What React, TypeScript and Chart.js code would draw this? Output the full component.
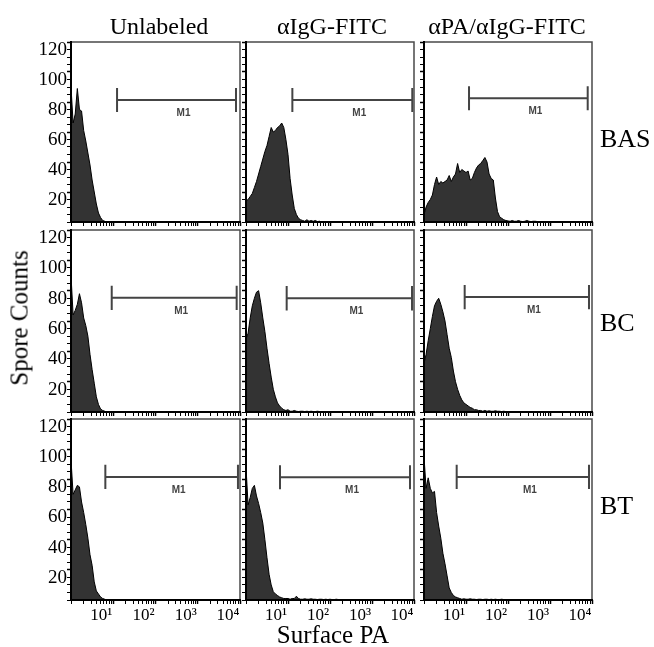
import React, { useEffect, useRef } from "react";
import { Chart, registerables } from "chart.js";

Chart.register(...registerables);

// Fluorescence channel positions (log-spaced bins, 20 per decade)
const CHANNELS = [
  1, 1.122, 1.259, 1.413, 1.585, 1.778, 1.995, 2.239, 2.512, 2.818,
  3.162, 3.548, 3.981, 4.467, 5.012, 5.623, 6.31, 7.079, 7.943, 8.913,
  10, 11.22, 12.59, 14.13, 15.85, 17.78, 19.95, 22.39, 25.12, 28.18,
  31.62, 35.48, 39.81, 44.67, 50.12, 56.23, 63.1, 70.79, 79.43, 89.13,
  100, 112.2, 125.9, 141.3, 158.5, 177.8, 199.5, 223.9, 251.2, 281.8,
  316.2, 354.8, 398.1, 446.7, 501.2, 562.3, 631, 707.9, 794.3, 891.3,
  1000, 1122, 1259, 1413, 1585, 1778, 1995, 2239, 2512, 2818,
  3162, 3548, 3981, 4467, 5012, 5623, 6310, 7079, 7943, 8913,
  10000,
];

// Spore counts per channel
const BAS_UNLABELED = [
  90, 66, 72, 89, 75, 74, 61, 54, 46, 38,
  28, 20, 12, 6, 3, 1, 0.5, 0, 0, 0,
  0, 0, 0, 0, 0, 0, 0, 0, 0, 0,
  0, 0, 0, 0, 0, 0, 0, 0, 0, 0,
  0, 0, 0, 0, 0, 0, 0, 0, 0, 0,
  0, 0, 0, 0, 0, 0, 0, 0, 0, 0,
  0, 0, 0, 0, 0, 0, 0, 0, 0, 0,
  0, 0, 0, 0, 0, 0, 0, 0, 0, 0,
  0,
];
const BAS_IGG = [
  14, 15, 17, 19, 23, 27, 32, 37, 42, 47,
  51, 57, 63, 60, 61, 63, 64, 66, 63, 55,
  45, 29, 18, 9, 5, 2.5, 1.5, 1, 0.5, 1.5,
  0.5, 1, 0.5, 1, 0.3, 0.5, 0, 0, 0, 0,
  0, 0, 0, 0, 0, 0, 0, 0, 0, 0,
  0, 0, 0, 0, 0, 0, 0, 0, 0, 0,
  0, 0, 0, 0, 0, 0, 0, 0, 0, 0,
  0, 0, 0, 0, 0, 0, 0, 0, 0, 0,
  0,
];
const BAS_PA = [
  5, 10, 13, 15, 18, 25, 30, 25, 27, 26,
  27, 28, 31, 27, 30, 32, 39, 33, 35, 34,
  33, 34, 28, 29, 33, 36, 38, 39, 41, 43,
  40, 32, 29, 28, 16, 7, 3.5, 2.5, 1.5, 1,
  0.7, 0.5, 1, 0.5, 0.5, 1, 0.5, 0.3, 0.5, 1,
  0.5, 0.3, 0.5, 0.5, 0.3, 0, 0, 0, 0, 0,
  0, 0, 0, 0, 0, 0, 0, 0, 0, 0,
  0, 0, 0, 0, 0, 0, 0, 0, 0, 0,
  0,
];
const BC_UNLABELED = [
  90, 64, 67, 71, 78, 72, 62, 57, 50, 38,
  28, 19, 10, 5, 2, 1, 0.5, 0, 0, 0,
  0, 0, 0, 0, 0, 0, 0, 0, 0, 0,
  0, 0, 0, 0, 0, 0, 0, 0, 0, 0,
  0, 0, 0, 0, 0, 0, 0, 0, 0, 0,
  0, 0, 0, 0, 0, 0, 0, 0, 0, 0,
  0, 0, 0, 0, 0, 0, 0, 0, 0, 0,
  0, 0, 0, 0, 0, 0, 0, 0, 0, 0,
  0,
];
const BC_IGG = [
  48, 52, 62, 70, 75, 79, 80, 72, 62, 53,
  42, 32, 23, 15, 10, 6, 4, 2.5, 1.5, 1,
  1.5, 0.5, 0.5, 1, 0.5, 0.3, 0.5, 0.5, 0.3, 0.5,
  0.3, 0.5, 0.3, 0.3, 0.5, 0.3, 0, 0, 0, 0,
  0, 0, 0, 0, 0, 0, 0, 0, 0, 0,
  0, 0, 0, 0, 0, 0, 0, 0, 0, 0,
  0, 0, 0, 0, 0, 0, 0, 0, 0, 0,
  0, 0, 0, 0, 0, 0, 0, 0, 0, 0,
  0,
];
const BC_PA = [
  32, 38, 47, 55, 63, 70, 73, 75, 71, 66,
  60, 51, 42, 36, 27, 20, 15, 11, 8, 6,
  5, 4, 3, 2.5, 1.5, 1.5, 1, 1, 0.5, 1,
  0.5, 0.8, 0.5, 0.5, 0.8, 0.5, 0.5, 0.3, 0.5, 0.3,
  0.3, 0, 0, 0, 0, 0, 0, 0, 0, 0,
  0, 0, 0, 0, 0, 0, 0, 0, 0, 0,
  0, 0, 0, 0, 0, 0, 0, 0, 0, 0,
  0, 0, 0, 0, 0, 0, 0, 0, 0, 0,
  0,
];
const BT_UNLABELED = [
  93, 70, 73, 76, 75, 65, 58, 50, 41, 30,
  23, 12, 6, 4, 2, 1, 0.5, 0, 0, 0,
  0, 0, 0, 0, 0, 0, 0, 0, 0, 0,
  0, 0, 0, 0, 0, 0, 0, 0, 0, 0,
  0, 0, 0, 0, 0, 0, 0, 0, 0, 0,
  0, 0, 0, 0, 0, 0, 0, 0, 0, 0,
  0, 0, 0, 0, 0, 0, 0, 0, 0, 0,
  0, 0, 0, 0, 0, 0, 0, 0, 0, 0,
  0,
];
const BT_IGG = [
  88, 63, 68, 74, 76, 69, 64, 58, 51, 40,
  28, 17, 10, 5.5, 4, 3, 2, 1.5, 1, 1,
  1, 0.5, 1, 1, 2.5, 1, 0.5, 0.5, 0.8, 0.5,
  0.5, 0.8, 0.5, 0.5, 0.3, 0.5, 0.5, 0.3, 0.5, 0.3,
  0.5, 0.3, 0.3, 0.5, 0.3, 0.3, 0.3, 0.3, 0.3, 0,
  0, 0, 0, 0, 0, 0, 0, 0, 0, 0,
  0, 0, 0, 0, 0, 0, 0, 0, 0, 0,
  0, 0, 0, 0, 0, 0, 0, 0, 0, 0,
  0,
];
const BT_PA = [
  95, 74, 81, 74, 71, 72, 58, 49, 41, 31,
  24, 16, 8, 5, 3, 2, 1.5, 1, 0.5, 0.8,
  0.5, 0.5, 0.8, 0.5, 0.5, 0.3, 0.5, 0.5, 0.3, 0.5,
  0.5, 0.3, 0.5, 0.3, 0.5, 0.3, 0.3, 0.5, 0.3, 0.3,
  0.3, 0.3, 0.3, 0.3, 0.3, 0.3, 0.3, 0.3, 0.3, 0.3,
  0.3, 0, 0, 0, 0, 0, 0, 0, 0, 0,
  0, 0, 0, 0, 0, 0, 0, 0, 0, 0,
  0, 0, 0, 0, 0, 0, 0, 0, 0, 0,
  0,
];

const COLUMN_NAMES = ["Unlabeled", "αIgG-FITC", "αPA/αIgG-FITC"];
const ROW_NAMES = ["BAS", "BC", "BT"];

// M1 gate markers (row-major order): start, end, count level
const M1_START = [12.3, 12.7, 11.8, 9.2, 9.3, 9.3, 6.5, 6.45, 6.0];
const M1_END = [8040, 9100, 7900, 8340, 8970, 8480, 8950, 8030, 8480];
const M1_LEVEL = [81.3, 81.3, 82.5, 75.3, 75, 75.8, 81.6, 81.4, 81.6];

const Y_GRID_TICKS = [
  0, 5, 10, 15, 20, 25, 30, 35, 40, 45, 50, 55, 60, 65, 70, 75, 80, 85, 90,
  95, 100, 105, 110, 115, 120,
];
const Y_TICK_LABELS = [20, 40, 60, 80, 100, 120];
const X_GRID_TICKS = [
  1, 2, 3, 4, 5, 6, 7, 8, 9,
  10, 20, 30, 40, 50, 60, 70, 80, 90,
  100, 200, 300, 400, 500, 600, 700, 800, 900,
  1000, 2000, 3000, 4000, 5000, 6000, 7000, 8000, 9000,
  10000,
];
const X_TICK_VALUES = [10, 100, 1000, 10000];
const X_TICK_TEXT = ["10¹", "10²", "10³", "10⁴"];

const COUNTS = [
  [BAS_UNLABELED, BAS_IGG, BAS_PA],
  [BC_UNLABELED, BC_IGG, BC_PA],
  [BT_UNLABELED, BT_IGG, BT_PA],
];

// Layout (page pixels)
const COL_LEFT = [71, 246, 424];
const COL_W = [169, 168, 168];
const ROW_TOP = [42, 230, 419];
const ROW_H = [180, 182, 181];
const YW = 45;
const XH = 34;
const PAD_T = 12;
const PAD_R = 14;
const M1_CAP = 8;

const SERIF = '"Liberation Serif", "Times New Roman", Times, serif';

const framePlugin = {
  id: "frameAndMarker",
  afterDatasetsDraw(chart: any, _args: any, opts: any) {
    const { ctx, chartArea: a, scales } = chart;
    ctx.save();
    ctx.lineCap = "square";
    ctx.strokeStyle = "#4a4a4a";
    ctx.lineWidth = 1.5;
    ctx.beginPath();
    ctx.moveTo(a.left, a.top);
    ctx.lineTo(a.right, a.top);
    ctx.lineTo(a.right, a.bottom);
    ctx.stroke();
    ctx.strokeStyle = "#000";
    ctx.lineWidth = 2;
    ctx.beginPath();
    ctx.moveTo(a.left, a.top);
    ctx.lineTo(a.left, a.bottom);
    ctx.lineTo(a.right, a.bottom);
    ctx.stroke();

    const m = opts.marker;
    const x0 = scales.x.getPixelForValue(m.start);
    const x1 = scales.x.getPixelForValue(m.end);
    const y = scales.y.getPixelForValue(m.level);
    const yt = scales.y.getPixelForValue(m.level + M1_CAP);
    const yb = scales.y.getPixelForValue(m.level - M1_CAP);
    ctx.lineCap = "butt";
    ctx.strokeStyle = "#444";
    ctx.lineWidth = 2;
    ctx.beginPath();
    ctx.moveTo(x0, y);
    ctx.lineTo(x1, y);
    ctx.moveTo(x0, yt);
    ctx.lineTo(x0, yb);
    ctx.moveTo(x1, yt);
    ctx.lineTo(x1, yb);
    ctx.stroke();
    ctx.fillStyle = "#444";
    ctx.font = 'bold 10px "Liberation Sans", Arial, sans-serif';
    ctx.textAlign = "center";
    ctx.textBaseline = "middle";
    ctx.fillText("M1", (x0 + x1) / 2 + 7, y + 13);
    ctx.restore();
  },
};

function Panel({ row, col }: { row: number; col: number }) {
  const ref = useRef<HTMLCanvasElement | null>(null);
  const w = YW + COL_W[col] + PAD_R;
  const h = PAD_T + ROW_H[row] + XH;
  useEffect(() => {
    if (!ref.current) return;
    const idx = row * 3 + col;
    const values = COUNTS[row][col];
    const showX = row === 2;
    const showY = col === 0;
    const chart = new Chart(ref.current, {
      type: "line",
      data: {
        datasets: [
          {
            data: CHANNELS.map((x, i) => ({ x, y: values[i] })),
            fill: "origin",
            backgroundColor: "#333333",
            borderColor: "#000000",
            borderWidth: 1,
            pointRadius: 0,
            tension: 0,
          },
        ],
      },
      options: {
        responsive: false,
        maintainAspectRatio: false,
        animation: false,
        events: [],
        layout: { padding: { top: PAD_T, right: PAD_R, left: 0, bottom: 0 } },
        plugins: {
          legend: { display: false },
          tooltip: { enabled: false },
          frameAndMarker: {
            marker: { start: M1_START[idx], end: M1_END[idx], level: M1_LEVEL[idx] },
          },
        } as any,
        scales: {
          x: {
            type: "logarithmic",
            min: 1,
            max: 10000,
            afterBuildTicks: (s: any) => {
              s.ticks = X_GRID_TICKS.map((v) => ({ value: v, major: X_TICK_VALUES.includes(v) }));
            },
            afterFit: (s: any) => {
              s.height = XH;
            },
            border: { display: false },
            grid: {
              drawOnChartArea: false,
              drawTicks: true,
              tickLength: 4,
              tickColor: "#000",
              tickWidth: (c: any) => (c.tick && X_TICK_VALUES.includes(c.tick.value) ? 1.5 : 1),
            },
            ticks: {
              autoSkip: false,
              maxRotation: 0,
              minRotation: 0,
              padding: 1,
              labelOffset: -12,
              color: "#000",
              font: { family: SERIF, size: 17 },
              callback: (_v: any, i: number, ticks: any[]) => {
                if (!showX) return "";
                const k = X_TICK_VALUES.indexOf(ticks[i].value);
                return k >= 0 ? X_TICK_TEXT[k] : "";
              },
            },
          },
          y: {
            type: "linear",
            min: 0,
            max: 120,
            afterBuildTicks: (s: any) => {
              s.ticks = Y_GRID_TICKS.map((v) => ({ value: v }));
            },
            afterFit: (s: any) => {
              s.width = YW;
            },
            border: { display: false },
            grid: {
              drawOnChartArea: false,
              drawTicks: true,
              tickLength: 4,
              tickColor: "#000",
              tickWidth: (c: any) => (c.tick && Y_TICK_LABELS.includes(c.tick.value) ? 1.5 : 1),
            },
            ticks: {
              autoSkip: false,
              padding: 0,
              labelOffset: 8,
              color: "#000",
              font: { family: SERIF, size: 19 },
              callback: (_v: any, i: number, ticks: any[]) => {
                const v = ticks[i].value;
                return showY && Y_TICK_LABELS.includes(v) ? String(v) : "";
              },
            },
          },
        },
      } as any,
      plugins: [framePlugin as any],
    });
    return () => chart.destroy();
  }, [row, col]);
  return (
    <canvas
      ref={ref}
      width={w}
      height={h}
      style={{
        position: "absolute",
        left: COL_LEFT[col] - YW,
        top: ROW_TOP[row] - PAD_T,
        width: w,
        height: h,
      }}
    />
  );
}

function Text({
  x,
  y,
  size,
  children,
  rotate,
  leftAlign,
}: {
  x: number;
  y: number;
  size: number;
  children: React.ReactNode;
  rotate?: boolean;
  leftAlign?: boolean;
}) {
  return (
    <div
      style={{
        position: "absolute",
        left: x,
        top: y,
        fontFamily: SERIF,
        fontSize: size,
        lineHeight: `${size}px`,
        whiteSpace: "nowrap",
        color: "#000",
        transform: `translate(${leftAlign ? "0" : "-50%"}, -50%)${rotate ? " rotate(-90deg)" : ""}`,
      }}
    >
      {children}
    </div>
  );
}

const HEADER_X = [159, 332, 507];
const ROW_LABEL_Y = [139, 323, 506];

export default function App() {
  const panels = [];
  for (let r = 0; r < 3; r++) for (let c = 0; c < 3; c++) panels.push(<Panel key={`${r}-${c}`} row={r} col={c} />);
  return (
    <div
      style={{
        position: "fixed",
        left: 0,
        top: 0,
        width: 654,
        height: 647,
        background: "#fff",
        overflow: "hidden",
      }}
    >
      {panels}
      {COLUMN_NAMES.map((n, i) => (
        <Text key={n} x={HEADER_X[i]} y={26} size={24}>
          {n}
        </Text>
      ))}
      {ROW_NAMES.map((n, i) => (
        <Text key={n} x={600} y={ROW_LABEL_Y[i]} size={26} leftAlign>
          {n}
        </Text>
      ))}
      <Text x={19} y={318} size={25} rotate>
        Spore Counts
      </Text>
      <Text x={333} y={634} size={25}>
        Surface PA
      </Text>
    </div>
  );
}
